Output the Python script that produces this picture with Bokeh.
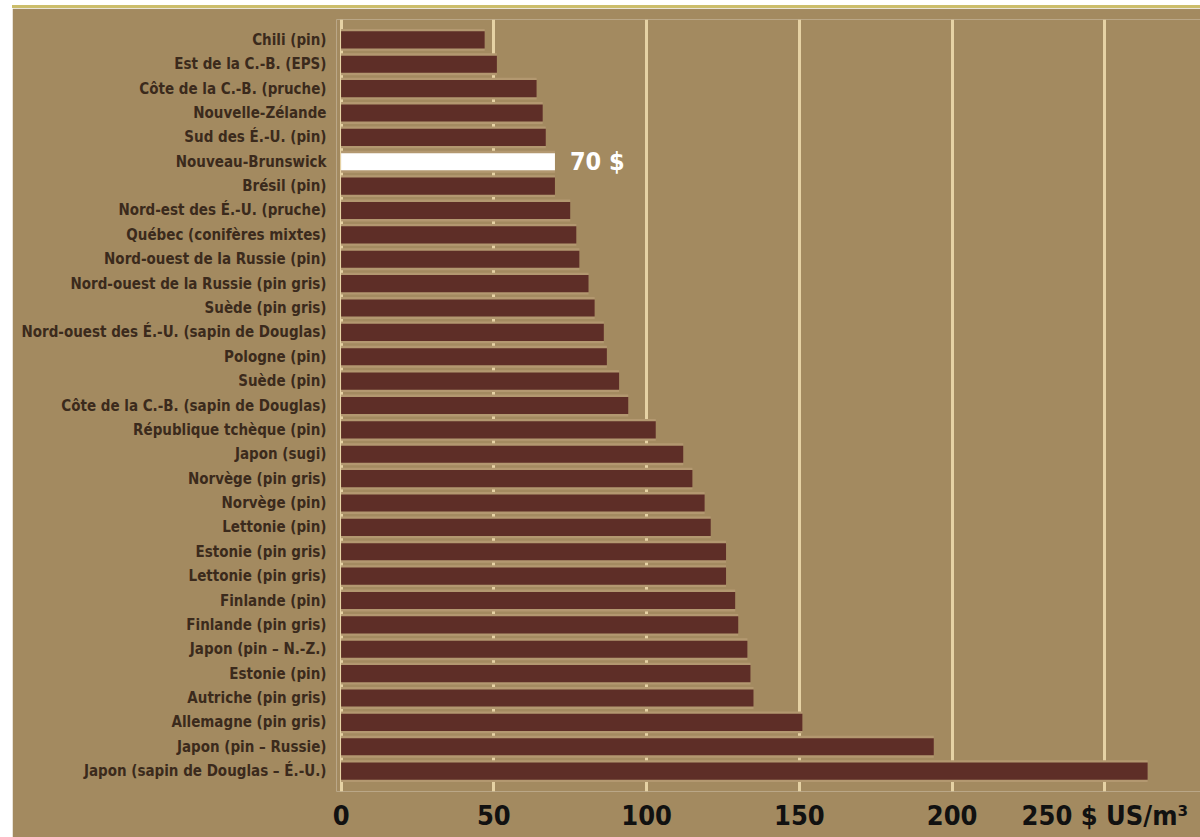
from bokeh.plotting import figure
from bokeh.models import Range1d, FixedTicker, ColumnDataSource, Div, Column
from bokeh.core.properties import value
from bokeh.embed import file_html
from bokeh.resources import INLINE

# Coût de la fibre livrée (bois rond résineux), $ US par m³, du plus bas au plus haut
regions = [
    "Chili (pin)",
    "Est de la C.-B. (EPS)",
    "Côte de la C.-B. (pruche)",
    "Nouvelle-Zélande",
    "Sud des É.-U. (pin)",
    "Nouveau-Brunswick",
    "Brésil (pin)",
    "Nord-est des É.-U. (pruche)",
    "Québec (conifères mixtes)",
    "Nord-ouest de la Russie (pin)",
    "Nord-ouest de la Russie (pin gris)",
    "Suède (pin gris)",
    "Nord-ouest des É.-U. (sapin de Douglas)",
    "Pologne (pin)",
    "Suède (pin)",
    "Côte de la C.-B. (sapin de Douglas)",
    "République tchèque (pin)",
    "Japon (sugi)",
    "Norvège (pin gris)",
    "Norvège (pin)",
    "Lettonie (pin)",
    "Estonie (pin gris)",
    "Lettonie (pin gris)",
    "Finlande (pin)",
    "Finlande (pin gris)",
    "Japon (pin – N.-Z.)",
    "Estonie (pin)",
    "Autriche (pin gris)",
    "Allemagne (pin gris)",
    "Japon (pin – Russie)",
    "Japon (sapin de Douglas – É.-U.)",
]
costs = [47, 51, 64, 66, 67, 70, 70, 75, 77, 78, 81, 83, 86, 87, 91, 94,
         103, 112, 115, 119, 121, 126, 126, 129, 130, 133, 134, 135, 151, 194, 264]
highlight = "Nouveau-Brunswick"
x_ticks = [0, 50, 100, 150, 200, 250]
unit_label = "$ US/m³"

BG = "#a38a60"
BAR = "#5e2e27"
HALO = "#b39870"
GRID = "#e6d2a4"
LABEL = "#3b2a1c"
FONT = "DejaVu Sans Condensed"

rows = list(range(len(regions)))
colors = ["#ffffff" if r == highlight else BAR for r in regions]
src = ColumnDataSource(dict(y=rows, cost=costs, color=colors))

p = figure(
    width=1188, height=829,
    x_range=Range1d(-1.5, 281.3),
    y_range=Range1d(len(regions) - 1 + 0.835, -0.835),
    output_backend="svg", toolbar_location=None,
    min_border_left=324, min_border_right=0,
    min_border_top=11, min_border_bottom=46,
    background_fill_color=BG, border_fill_color=BG,
    outline_line_color=None, margin=0,
)

# soft rim around each bar, then the bar itself
p.hbar(y="y", left=0, right="cost", height=0.90, source=src,
       fill_color=HALO, line_color=None)
p.hbar(y="y", left=0, right="cost", height=0.70, source=src,
       fill_color="color", line_color=None)

hi = regions.index(highlight)
p.text(x=[costs[hi]], y=[hi], text=[f"{costs[hi]:g} $"], x_offset=15,
       text_color="#ffffff", text_font=value(FONT), text_font_style="bold",
       text_font_size="25px", text_baseline="middle", text_align="left")

# x axis: value ticks, unit appended to the last one
p.xaxis.ticker = FixedTicker(ticks=x_ticks)
p.xaxis.major_label_overrides = {x_ticks[-1]: f"{x_ticks[-1]} {unit_label}"}
p.xaxis.axis_line_color = None
p.xaxis.major_tick_line_color = None
p.xaxis.minor_tick_line_color = None
p.xaxis.major_label_standoff = 2
p.xaxis.major_label_text_font = FONT
p.xaxis.major_label_text_font_style = "bold"
p.xaxis.major_label_text_font_size = "27px"
p.xaxis.major_label_text_color = "#111111"

# y axis: region names
p.yaxis.ticker = FixedTicker(ticks=rows)
p.yaxis.major_label_overrides = {i: r for i, r in enumerate(regions)}
p.yaxis.axis_line_color = None
p.yaxis.major_tick_line_color = None
p.yaxis.minor_tick_line_color = None
p.yaxis.major_label_standoff = 4
p.yaxis.major_label_text_font = FONT
p.yaxis.major_label_text_font_style = "bold"
p.yaxis.major_label_text_font_size = "15px"
p.yaxis.major_label_text_color = LABEL

p.xgrid.ticker = FixedTicker(ticks=x_ticks)
p.xgrid.grid_line_color = GRID
p.xgrid.grid_line_width = 3
p.ygrid.grid_line_color = None

top_rule = Div(text="", width=1188, height=3, margin=0,
               styles={"background-color": "#cbbd6b"})
page = Column(children=[top_rule, p], spacing=0, margin=(5, 0, 0, 12))

open("out.html", "w").write(file_html(page, INLINE))
